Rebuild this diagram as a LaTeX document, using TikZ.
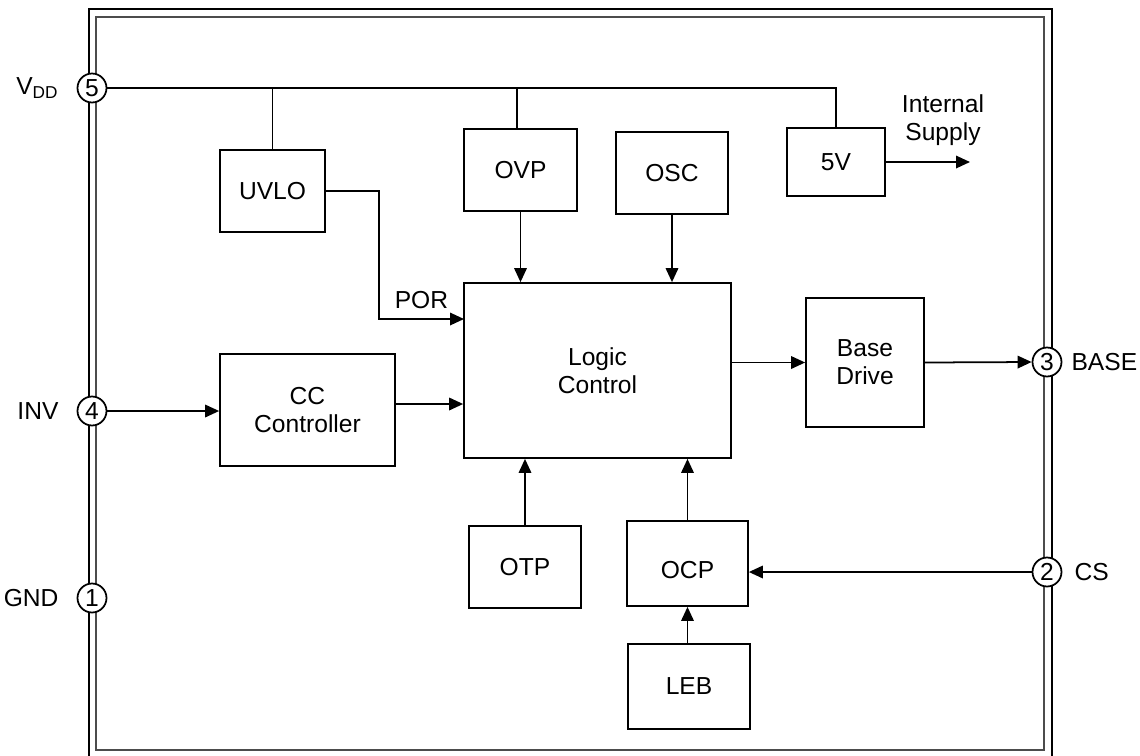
\documentclass[tikz,border=0pt]{standalone}
\usepackage{fontspec}
\setmainfont{Liberation Sans}
\usepackage{tikz}
\usetikzlibrary{arrows.meta,positioning,calc}

\begin{document}
\begin{tikzpicture}[x=0.02cm,y=-0.02cm,
    every node/.style={font=\fontsize{14}{16}\selectfont},
    blk/.style={draw, line width=1pt, align=center, inner sep=0pt},
    pinc/.style={draw, circle, fill=white, line width=1pt, minimum size=0.58cm, inner sep=0pt},
    sig/.style={line width=1pt, -{Triangle[length=0.28cm,width=0.25cm]}},
    wire/.style={line width=1pt}]
                \useasboundingbox (0,0) rectangle (1140,755);
                % package outline (double border)
                \draw[line width=1.3pt] (89,770) -- (89,9) -- (1052,9) -- (1052,770);
                \draw[black!70, line width=0.7pt] (96,17) rectangle (1044,750);

                % function blocks
                \node[blk, minimum width=2.1cm, minimum height=1.64cm] (uvlo) at (272.5,191) {UVLO};
                \node[blk, minimum width=2.26cm, minimum height=1.64cm] (ovp) at (520.5,170) {OVP};
                \node[blk, minimum width=2.24cm, minimum height=1.64cm] (osc) at (672,173) {OSC};
                \node[blk, minimum width=1.96cm, minimum height=1.36cm] (fivev) at (836,162) {5V};
                \node[blk, minimum width=5.34cm, minimum height=3.5cm] (logic) at (597.5,370.5) {Logic\\Control};
                \node[blk, minimum width=3.5cm, minimum height=2.24cm] (cc) at (307.5,410) {CC\\Controller};
                \node[blk, minimum width=2.36cm, minimum height=2.58cm] (base) at (865,362.5) {Base\\Drive};
                \node[blk, minimum width=2.24cm, minimum height=1.64cm] (otp) at (525,567) {OTP};
                \node[blk, minimum width=2.42cm, minimum height=1.7cm, text height=0.6cm] (ocp) at (687.5,563.5) {OCP};
                \node[blk, minimum width=2.44cm, minimum height=1.7cm] (leb) at (689,686.5) {LEB};

                % pins
                \node[pinc] (vdd) at (92,88) {5};
                \node[pinc] (inv) at (92,411) {4};
                \node[pinc] (gnd) at (92,598) {1};
                \node[pinc] (basepin) at (1047,362) {3};
                \node[pinc] (cs) at (1047,572) {2};
                \node[left=0.24cm of vdd] (vddlbl) {V\textsubscript{DD}};
                \node[left=0.24cm of inv] (invlbl) {INV};
                \node[left=0.24cm of gnd] (gndlbl) {GND};
                \node[right=0.06cm of basepin] (baselbl) {BASE};
                \node[right=0.12cm of cs] (cslbl) {CS};

                % supply rail
                \draw[wire] (vdd.east) -- (vdd.east -| fivev.north) -- (fivev.north);
                \draw[wire] (uvlo.north) -- (uvlo.north |- vdd.east);
                \draw[wire] ([xshift=-0.07cm]ovp.north) -- ([xshift=-0.07cm]ovp.north |- vdd.east);

                % internal supply output
                \coordinate (intsup) at (970,162);
                \draw[sig] (fivev.east) -- (intsup);
                \node[align=center] (intlbl) at (943,120) {Internal\\Supply};

                % signals into logic
                \coordinate (porin) at (464,319);
                \draw[sig] (uvlo.east) -- ++(53,0) |- node[pos=0.75, above=2pt] {POR} (porin);
                \draw[sig] (ovp.south) -- (ovp.south |- logic.north);
                \draw[sig] (osc.south) -- (osc.south |- logic.north);
                \draw[sig] (inv.east) -- (inv.east -| cc.west);
                \draw[sig] ([yshift=0.12cm]cc.east) -- ([yshift=0.12cm]cc.east -| logic.west);
                \draw[sig] (logic.east |- base.west) -- (base.west);
                \draw[sig] (base.east) -- (basepin.west);
                \draw[sig] (otp.north) -- (otp.north |- logic.south);
                \draw[sig] (ocp.north) -- (ocp.north |- logic.south);
                \draw[sig] (cs.west) -- (cs.west -| ocp.east);
                \draw[sig] (ocp.south |- leb.north) -- (ocp.south);
            \end{tikzpicture}
\end{document}
